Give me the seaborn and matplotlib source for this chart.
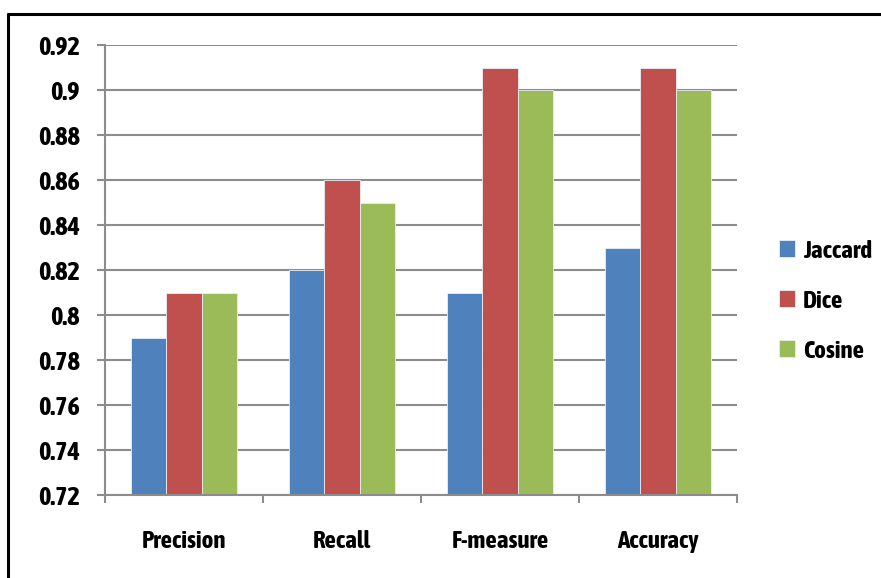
import matplotlib
matplotlib.use("Agg")
import matplotlib.pyplot as plt
from matplotlib import font_manager
from matplotlib.lines import Line2D
from matplotlib.ticker import FixedLocator
import seaborn as sns
import pandas as pd

# Similarity measures compared on four evaluation metrics
metrics = ["Precision", "Recall", "F-measure", "Accuracy"]
jaccard = [0.79, 0.82, 0.81, 0.83]
dice = [0.81, 0.86, 0.91, 0.91]
cosine = [0.81, 0.85, 0.90, 0.90]
series_names = ["Jaccard", "Dice", "Cosine"]
y_ticks = [0.72, 0.74, 0.76, 0.78, 0.80, 0.82, 0.84, 0.86, 0.88, 0.90, 0.92]
y_tick_labels = ["0.72", "0.74", "0.76", "0.78", "0.8", "0.82", "0.84",
                 "0.86", "0.88", "0.9", "0.92"]

palette = {"Jaccard": "#4F81BD", "Dice": "#C0504D", "Cosine": "#9BBB59"}

rows = []
for name, vals in zip(series_names, [jaccard, dice, cosine]):
    for m, v in zip(metrics, vals):
        rows.append({"Metric": m, "Measure": name, "Value": v})
df = pd.DataFrame(rows)

sns.set_theme(style="white")

# Pick a narrow sans face (preferably one with a bold cut) if installed
def _weight(w):
    names = {"bold": 700, "heavy": 800, "black": 900, "semibold": 600,
             "demibold": 600, "extra bold": 800, "ultrabold": 800}
    if isinstance(w, str):
        return names.get(w.lower(), 400)
    return int(w)

faces = font_manager.fontManager.ttflist
narrow_names = sorted({f.name for f in faces
                       if "Narrow" in f.name or "Condensed" in f.name})
bold_narrow = [n for n in narrow_names
               if any(f.name == n and _weight(f.weight) >= 600 for f in faces)]
if bold_narrow:
    family = [bold_narrow[0], "DejaVu Sans"]
    stretch = "normal"
elif narrow_names:
    family = [narrow_names[0], "DejaVu Sans"]
    stretch = "normal"
else:
    family = ["DejaVu Sans"]
    stretch = "condensed"
plt.rcParams["font.family"] = family
plt.rcParams["font.stretch"] = stretch
plt.rcParams["font.weight"] = "bold"
plt.rcParams["text.color"] = "black"

fig = plt.figure(figsize=(8.81, 5.78), dpi=100)
ax = fig.add_axes([105 / 881, 1 - 495 / 578, 632 / 881, 450 / 578])

sns.barplot(data=df, x="Metric", y="Value", hue="Measure", order=metrics,
            hue_order=series_names, palette=palette, width=0.665,
            edgecolor="#e8eef5", linewidth=0.6, saturation=1, ax=ax,
            legend=True, errorbar=None)

grid_color = "#8c8c8c"
ax.set_ylim(0.72, 0.92)
ax.set_xlim(-0.5, len(metrics) - 0.5)
ax.set_yticks(y_ticks)
ax.set_yticklabels(y_tick_labels)
ax.yaxis.grid(True, color=grid_color, linewidth=1.5)
ax.set_axisbelow(True)
ax.set_xlabel("")
ax.set_ylabel("")

for side in ["top", "right"]:
    ax.spines[side].set_visible(False)
for side in ["left", "bottom"]:
    ax.spines[side].set_color(grid_color)
    ax.spines[side].set_linewidth(1.5)

ax.tick_params(axis="y", which="major", direction="out", length=6,
               width=1.5, color=grid_color, pad=12, labelsize=19,
               left=True, labelcolor="black")
ax.tick_params(axis="x", which="major", length=0, pad=25, labelsize=18,
               labelcolor="black")
ax.xaxis.set_minor_locator(FixedLocator([-0.5, 0.5, 1.5, 2.5, 3.5]))
ax.tick_params(axis="x", which="minor", direction="out", length=6,
               width=1.5, color=grid_color, bottom=True)
for lbl in ax.get_xticklabels() + ax.get_yticklabels():
    lbl.set_fontweight("bold")
    lbl.set_fontstretch(stretch)

handles, labels = ax.get_legend_handles_labels()
leg = ax.legend(handles, labels, loc="center left",
                bbox_to_anchor=(779 / 881, 1 - 301 / 578),
                bbox_transform=fig.transFigure, frameon=False,
                borderpad=0, borderaxespad=0, handlelength=0.65,
                handleheight=0.65, handletextpad=0.3, labelspacing=1.08,
                prop={"size": 18, "weight": "bold", "stretch": stretch})
for t in leg.get_texts():
    t.set_color("black")

# Chart border (top and left edges)
fig.add_artist(Line2D([8 / 881, 1.0], [1 - 14 / 578, 1 - 14 / 578],
                      transform=fig.transFigure, color="black", linewidth=2.2))
fig.add_artist(Line2D([8 / 881, 8 / 881], [1 - 14 / 578, 0.0],
                      transform=fig.transFigure, color="black", linewidth=2.2))

fig.savefig("out.png", dpi=100)
